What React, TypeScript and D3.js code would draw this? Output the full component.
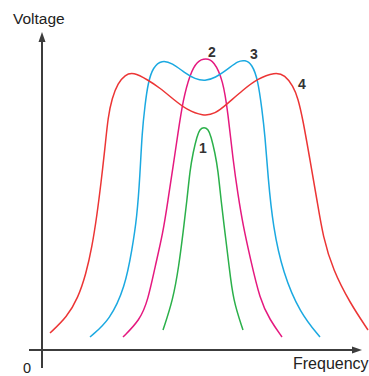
import React from 'react';
import * as d3 from 'd3';

// frequency / voltage readings for each response curve (arbitrary units)
const curve1 = [
  [12.1, 2.0], [13.1, 5.0], [13.7, 8.5], [14.1, 11.7], [14.5, 15.0], [14.8, 18.0], [15.1, 19.7],
  [15.5, 21.4], [15.8, 22.1], [16.2, 22.3], [16.6, 22.1], [16.9, 21.4], [17.3, 19.7], [17.6, 18.0],
  [17.9, 15.0], [18.3, 11.7], [18.7, 8.5], [19.1, 5.0], [20.1, 2.0],
];
const curve2 = [
  [8.1, 1.3], [9.8, 3.0], [10.6, 5.0], [11.3, 8.3], [12.1, 11.7], [12.6, 15.0], [13.1, 18.3],
  [13.6, 21.7], [14.1, 25.0], [14.8, 27.6], [15.5, 28.9], [16.4, 29.2], [17.2, 28.9], [18.1, 27.0],
  [18.6, 23.7], [19.1, 19.0], [19.6, 15.5], [20.1, 12.5], [20.8, 9.3], [21.8, 5.0], [22.8, 3.0], [24.0, 1.3],
];
const curve3 = [
  [4.8, 1.3], [6.8, 3.0], [8.3, 6.3], [9.0, 10.0], [9.5, 13.3], [9.8, 17.5], [10.0, 21.7], [10.3, 24.5],
  [10.6, 26.7], [11.1, 28.3], [12.0, 29.0], [13.0, 28.7], [14.3, 27.7], [15.3, 27.1], [16.3, 26.9],
  [17.3, 27.2], [18.6, 28.1], [19.6, 28.9], [20.3, 29.0], [21.0, 28.6], [21.6, 27.0], [22.0, 24.0],
  [22.3, 21.5], [22.6, 17.3], [23.1, 12.3], [24.1, 7.7], [25.8, 3.7], [27.8, 1.3],
];
const curve4 = [
  [0.8, 1.7], [2.5, 3.3], [3.6, 5.2], [4.4, 7.6], [5.0, 10.3], [5.5, 13.5], [5.9, 16.7], [6.3, 20.2],
  [6.6, 23.3], [7.0, 25.2], [7.6, 26.7], [8.3, 27.5], [9.1, 27.8], [10.6, 27.0], [11.8, 26.2],
  [13.1, 25.1], [14.5, 24.0], [16.1, 23.4], [17.3, 23.6], [18.5, 24.6], [20.1, 26.0], [21.5, 27.1],
  [23.3, 27.8], [24.3, 27.5], [25.1, 26.4], [25.6, 25.2], [26.1, 23.0], [26.8, 19.0], [27.5, 15.0],
  [28.1, 11.3], [29.1, 8.0], [30.8, 4.7], [32.6, 2.0],
];

const curveNames = ['1', '2', '3', '4'];
const curveColors = ['#2bb04a', '#e5197f', '#1ba9e1', '#ec3535'];
// where each number label sits (frequency, voltage)
const labelPos = [[16.1, 20.2], [17.0, 29.8], [21.2, 29.6], [26.0, 26.6]];

const W = 369;
const H = 376;

export default function App() {
  const x = d3.scaleLinear().domain([0, 32]).range([42, 362]);
  const y = d3.scaleLinear().domain([0, 31.2]).range([350, 38]);

  const line = d3.line<number[]>()
    .x(d => x(d[0]))
    .y(d => y(d[1]))
    .curve(d3.curveBasis);

  const series = [curve1, curve2, curve3, curve4];
  const axisColor = '#3c3c3c';
  const x0 = x(0);
  const y0 = y(0);
  const xEnd = x(32);
  const yTop = y(31.8);

  return (
    <svg width={W} height={H} style={{ position: 'absolute', left: 0, top: 0 }}
      fontFamily="'Liberation Sans', Arial, sans-serif">
      <rect width={W} height={H} fill="#fff" />
      {/* axes */}
      <line x1={x(-1.3)} y1={y0} x2={xEnd - 6} y2={y0} stroke={axisColor} strokeWidth={2} />
      <path d={`M${xEnd},${y0} L${xEnd - 10},${y0 - 3.5} L${xEnd - 10},${y0 + 3.5} Z`} fill={axisColor} />
      <line x1={x0} y1={y(-1.8)} x2={x0} y2={yTop + 6} stroke={axisColor} strokeWidth={2} />
      <path d={`M${x0},${yTop} L${x0 - 3.5},${yTop + 10} L${x0 + 3.5},${yTop + 10} Z`} fill={axisColor} />

      {series.map((s, i) => (
        <path key={i} d={line(s) || ''} fill="none" stroke={curveColors[i]} strokeWidth={1.5} />
      ))}

      {curveNames.map((n, i) => (
        <text key={n} x={x(labelPos[i][0])} y={y(labelPos[i][1])} textAnchor="middle"
          dominantBaseline="central" fontSize={14} fontWeight={600} fill="#333">{n}</text>
      ))}

      <text x={13} y={24} fontSize={15.5} fill="#222">Voltage</text>
      <text x={293} y={369} fontSize={16} fill="#222">Frequency</text>
      <text x={27} y={373} textAnchor="middle" fontSize={14.5} fill="#222">0</text>
    </svg>
  );
}
